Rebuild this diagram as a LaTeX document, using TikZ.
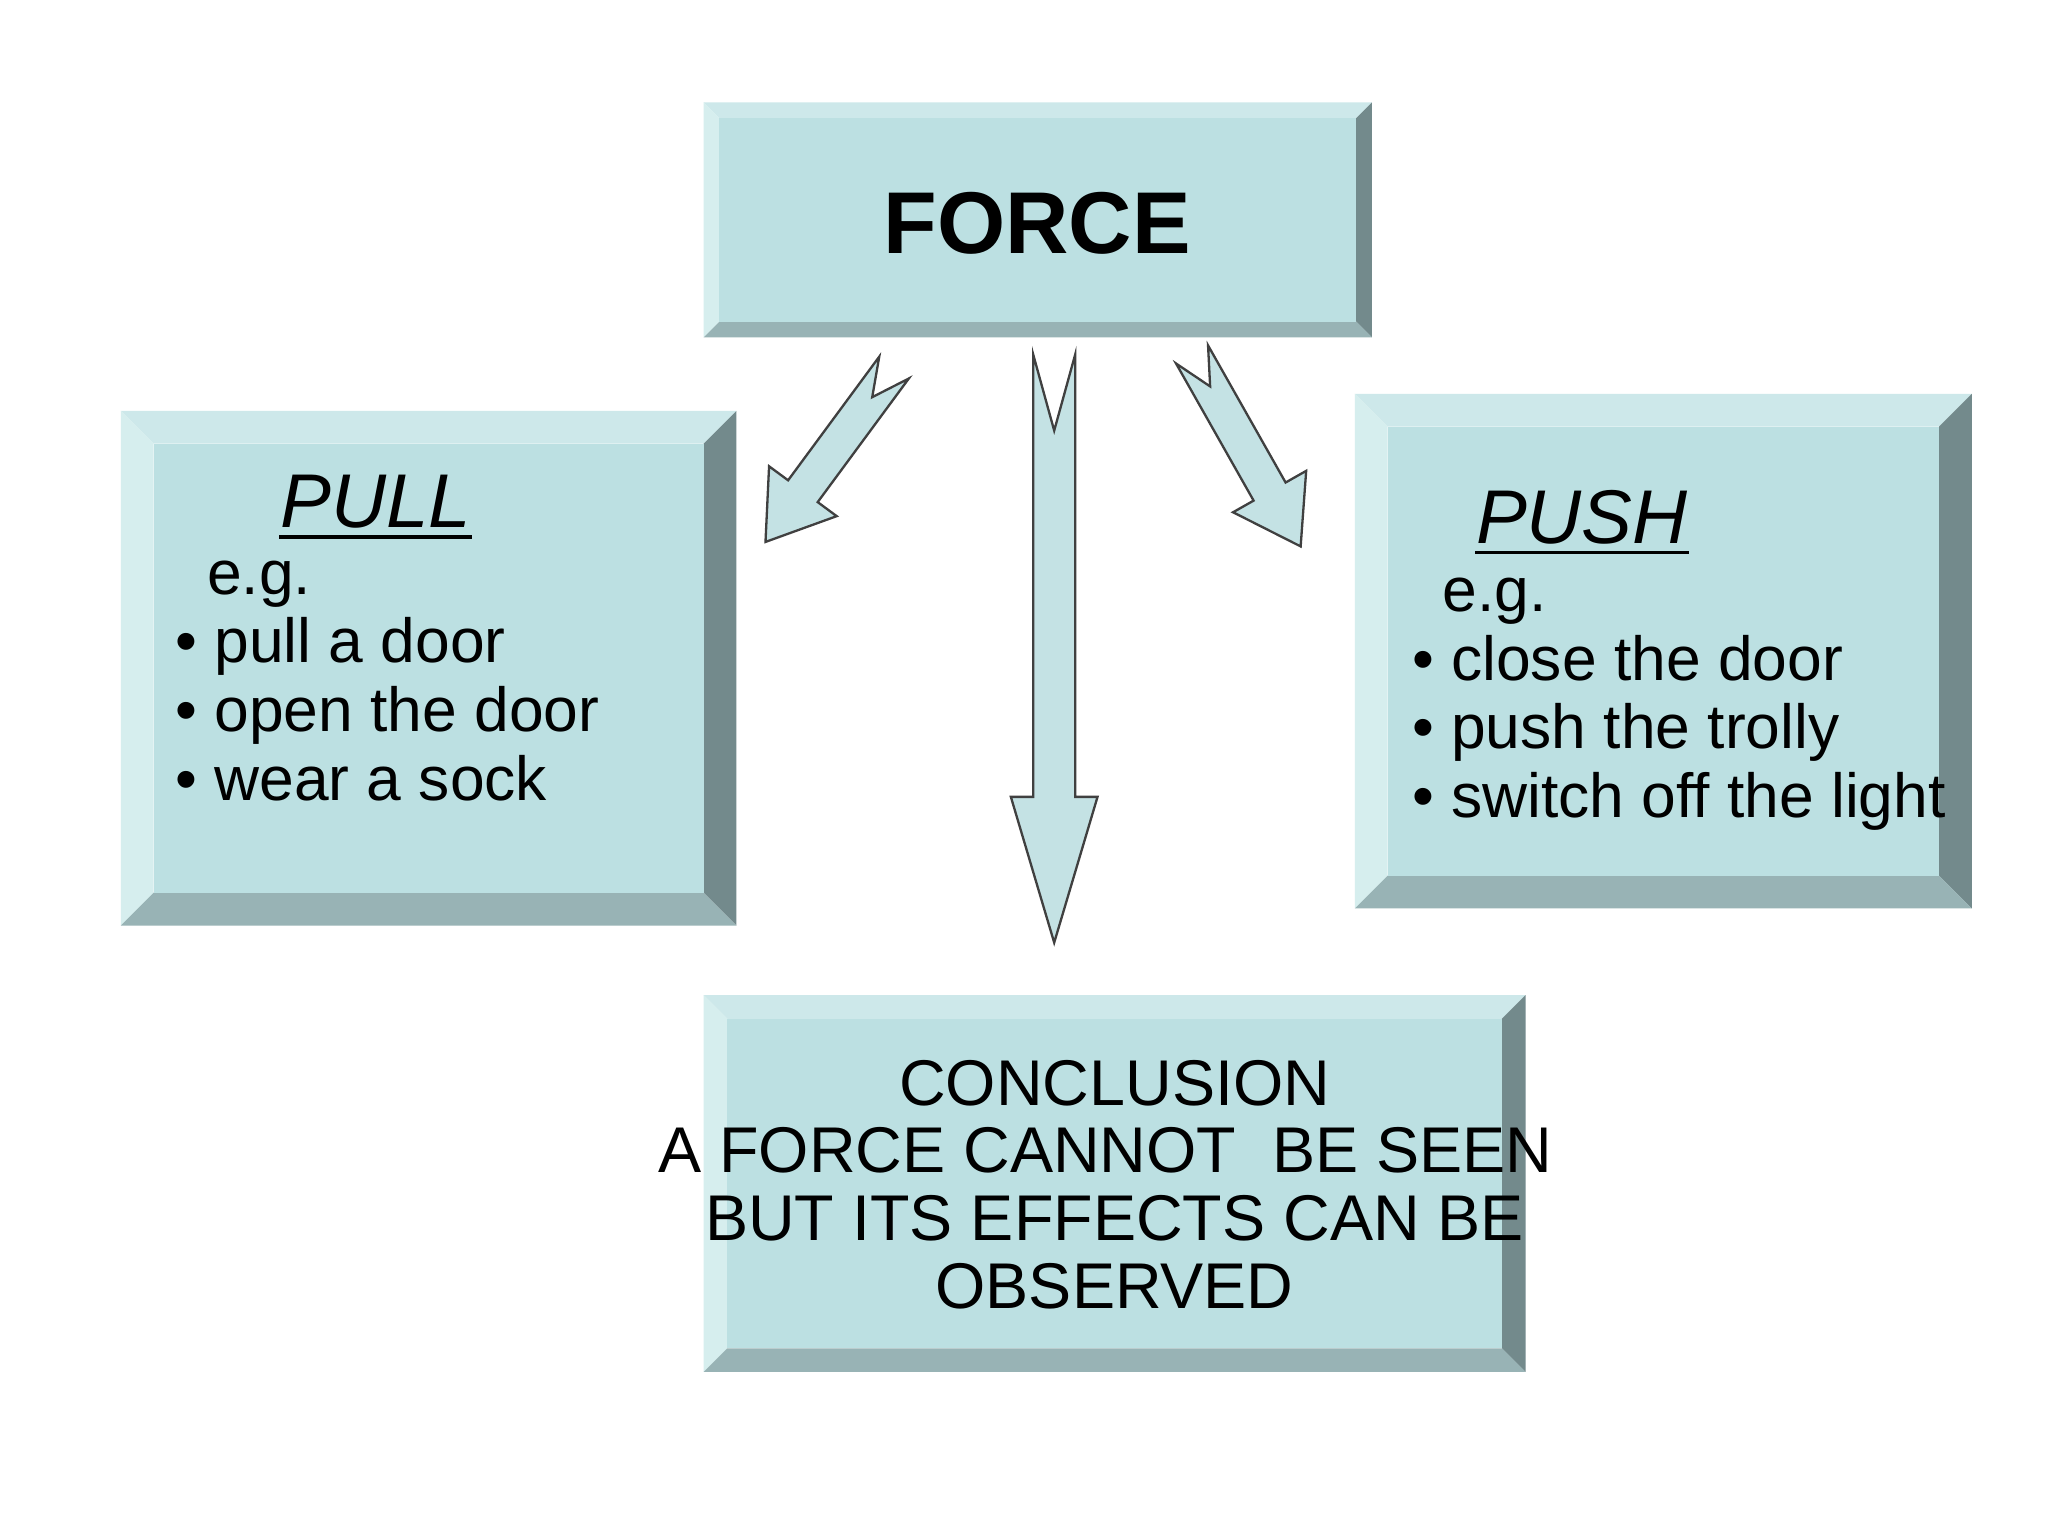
\documentclass[tikz,border=0pt]{standalone}
\usepackage{fontspec}
\setmainfont{Liberation Sans}
\definecolor{face}{HTML}{BCE0E2}
\definecolor{btop}{HTML}{CDE8EA}
\definecolor{bleft}{HTML}{D6EEEE}
\definecolor{bright}{HTML}{738A8C}
\definecolor{bbot}{HTML}{98B3B5}
\definecolor{arrfill}{HTML}{C4E2E4}
\newcommand{\bevbox}[5]{%
 \fill[btop] (#1,#2) -- (#3,#2) -- (#3-#5,#2+#5) -- (#1+#5,#2+#5) -- cycle;
 \fill[bleft] (#1,#2) -- (#1+#5,#2+#5) -- (#1+#5,#4-#5) -- (#1,#4) -- cycle;
 \fill[bright] (#3,#2) -- (#3,#4) -- (#3-#5,#4-#5) -- (#3-#5,#2+#5) -- cycle;
 \fill[bbot] (#1,#4) -- (#3,#4) -- (#3-#5,#4-#5) -- (#1+#5,#4-#5) -- cycle;
 \fill[face] (#1+#5,#2+#5) rectangle (#3-#5,#4-#5);}
\newcommand{\blockarrow}[8]{%
 \begin{scope}[shift={(#1,#2)},rotate=#3]
 \draw[arrow] (0,-#5) -- (#4-#7,-#5) -- (#4-#7,-#6) -- (#4,0) -- (#4-#7,#6) -- (#4-#7,#5) -- (0,#5) -- (#8,0) -- cycle;
 \end{scope}}
\begin{document}
\begin{tikzpicture}[x=0.01cm,y=-0.01cm,
 arrow/.style={draw=black!75,fill=arrfill,line width=0.5pt,line join=miter},
 body/.style={font=\fontsize{13.5pt}{16pt}\selectfont,anchor=base west,inner sep=0},
 head/.style={font=\fontsize{16.5pt}{19pt}\selectfont\itshape,anchor=base,inner sep=0},
 conc/.style={font=\fontsize{14pt}{16pt}\selectfont,anchor=base,inner sep=0}]
\fill[white] (0,0) rectangle (1560,1170);
\useasboundingbox (0,0) rectangle (1560,1170);
\bevbox{536}{78}{1045}{257}{12}
\bevbox{92}{313}{561}{705}{25}
\bevbox{1032}{300}{1502}{692}{25}
\bevbox{536}{758}{1162}{1045}{18}
\node[font=\fontsize{19pt}{22pt}\selectfont\bfseries,anchor=base,inner sep=0] (force) at (790,193) {FORCE};
\node[head] (pull) at (286,402) {PULL};
\draw[line width=0.7pt] ([yshift=-2pt]pull.base west) -- ([yshift=-2pt]pull.base east);
\node[body] (pe) at (157,453) {e.g.};
\node[body] (p1) at (133,505) {\textbullet\ pull a door};
\node[body] (p2) at (133,557) {\textbullet\ open the door};
\node[body] (p3) at (133,610) {\textbullet\ wear a sock};
\node[head] (push) at (1205,414) {PUSH};
\draw[line width=0.7pt] ([yshift=-2pt]push.base west) -- ([yshift=-2pt]push.base east);
\node[body] (se) at (1098,466) {e.g.};
\node[body] (s1) at (1075,518) {\textbullet\ close the door};
\node[body] (s2) at (1075,570) {\textbullet\ push the trolly};
\node[body] (s3) at (1075,623) {\textbullet\ switch off the light};
\node[conc] (c1) at (849,842) {CONCLUSION};
\node[conc] (c2) at (842,893) {A FORCE CANNOT\ \ BE SEEN};
\node[conc] (c3) at (849,945) {BUT ITS EFFECTS CAN BE};
\node[conc] (c4) at (849,997) {OBSERVED};
\blockarrow{803}{270}{-90}{448}{16}{33}{111}{58}
\blockarrow{681}{280}{-126.4}{165}{14}{32}{48}{28}
\blockarrow{908}{270}{-60.5}{168}{14}{32}{48}{28}
\end{tikzpicture}
\end{document}
